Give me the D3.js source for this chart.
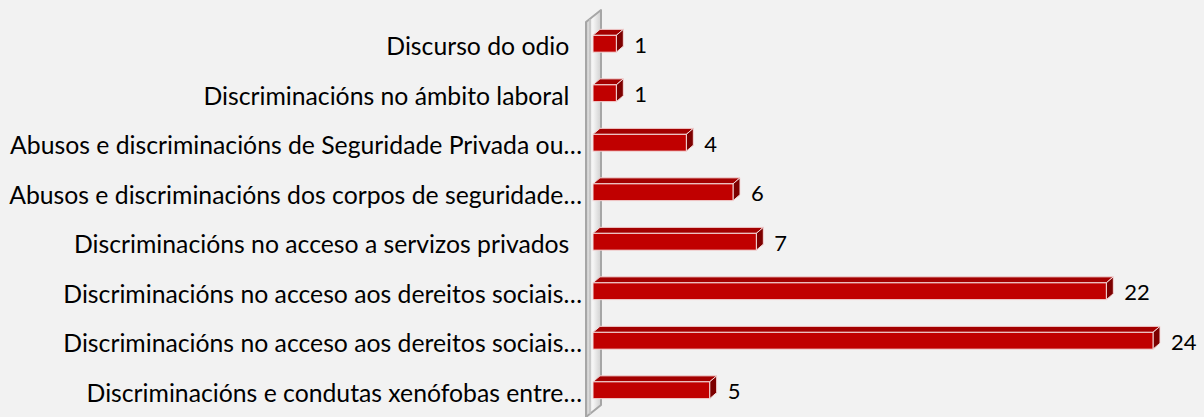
<!DOCTYPE html>
<html>
<head>
<meta charset="utf-8">
<script src="https://cdn.jsdelivr.net/npm/d3@7"></script>
<style>
  html, body { margin: 0; padding: 0; background: #f2f2f2; }
  svg { display: block; }
  text { white-space: pre; }
</style>
</head>
<body>
<div id="chart"></div>
<script>
const categories = [
  'Discurso do odio  ',
  'Discriminacións no ámbito laboral  ',
  'Abusos e discriminacións de Seguridade Privada ou…',
  'Abusos e discriminacións dos corpos de seguridade…',
  'Discriminacións no acceso a servizos privados  ',
  'Discriminacións no acceso aos dereitos sociais…',
  'Discriminacións no acceso aos dereitos sociais…',
  'Discriminacións e condutas xenófobas entre…'
];
const values = [1, 1, 4, 6, 7, 22, 24, 5];
const xMax = 24;

const width = 1204, height = 417;
const fontFamily = 'Lato, "Open Sans", sans-serif';

const svg = d3.select('#chart').append('svg')
  .attr('width', width).attr('height', height);

svg.append('rect').attr('width', width).attr('height', height).attr('fill', '#f2f2f2');

const rows = categories.map((c, i) => ({ key: i, label: c, value: values[i] }));

const x = d3.scaleLinear().domain([0, xMax]).range([593, 1153]);
const y = d3.scaleBand().domain(rows.map(d => d.key))
  .range([19, 415]).paddingInner(0.66).paddingOuter(0.33);

// depth of the 3D effect
const bdx = 7, bdy = -6;
const wdx = 15, wdy = -12;

// wall
const defs = svg.append('defs');
const grad = defs.append('linearGradient').attr('id', 'wallGrad')
  .attr('x1', 0).attr('x2', 1).attr('y1', 0).attr('y2', 0);
grad.append('stop').attr('offset', '0%').attr('stop-color', '#c8c8c8');
grad.append('stop').attr('offset', '45%').attr('stop-color', '#f7f7f7');
grad.append('stop').attr('offset', '100%').attr('stop-color', '#d0d0d0');

const wx = 586, wTop = 22, wBottom = 417;
svg.append('path')
  .attr('d', `M${wx},${wTop} L${wx + wdx},${wTop + wdy} L${wx + wdx},${wBottom + wdy} L${wx},${wBottom} Z`)
  .attr('fill', 'url(#wallGrad)')
  .attr('stroke', '#a6a6a6').attr('stroke-width', 2).attr('stroke-linejoin', 'round');
svg.append('line')
  .attr('x1', wx + 4).attr('x2', wx + 4).attr('y1', wTop - 3).attr('y2', wBottom - 3)
  .attr('stroke', '#bfbfbf').attr('stroke-width', 1.5);

// bars
const bars = svg.append('g').selectAll('g.bar').data(rows).join('g').attr('class', 'bar');

bars.append('path')
  .attr('d', d => {
    const x0 = x(0), x1 = x(d.value), yt = y(d.key);
    return `M${x0},${yt} L${x0 + bdx},${yt + bdy} L${x1 + bdx},${yt + bdy} L${x1},${yt} Z`;
  })
  .attr('fill', '#a30000').attr('stroke', '#f4d9d9').attr('stroke-width', 1).attr('stroke-linejoin', 'round');

bars.append('path')
  .attr('d', d => {
    const x1 = x(d.value), yt = y(d.key), h = y.bandwidth();
    return `M${x1},${yt} L${x1 + bdx},${yt + bdy} L${x1 + bdx},${yt + h + bdy} L${x1},${yt + h} Z`;
  })
  .attr('fill', '#7d0000').attr('stroke', '#f4d9d9').attr('stroke-width', 1).attr('stroke-linejoin', 'round');

bars.append('rect')
  .attr('x', x(0)).attr('y', d => y(d.key))
  .attr('width', d => x(d.value) - x(0)).attr('height', y.bandwidth())
  .attr('fill', '#c00000').attr('stroke', '#f4d9d9').attr('stroke-width', 1);

// value labels
svg.append('g').selectAll('text').data(rows).join('text')
  .attr('x', d => x(d.value) + 18)
  .attr('y', d => y(d.key) + y.bandwidth() / 2 + 1.5)
  .attr('dy', '0.35em')
  .attr('font-family', fontFamily).attr('font-size', 22)
  .attr('fill', '#000')
  .text(d => d.value);

// category labels
const labels = svg.append('g').selectAll('text').data(rows).join('text')
  .attr('x', 582)
  .attr('y', d => y(d.key) + y.bandwidth() / 2 + 3)
  .attr('dy', '0.35em')
  .attr('text-anchor', 'end')
  .attr('font-family', fontFamily).attr('font-size', 20)
  .attr('fill', '#000')
  .text(d => d.label);

// fit the longest label to the width seen in the reference
const longest = labels.filter((d, i) => i === 2).node().getComputedTextLength();
labels.attr('font-size', 20 * 572 / longest);
</script>
</body>
</html>
